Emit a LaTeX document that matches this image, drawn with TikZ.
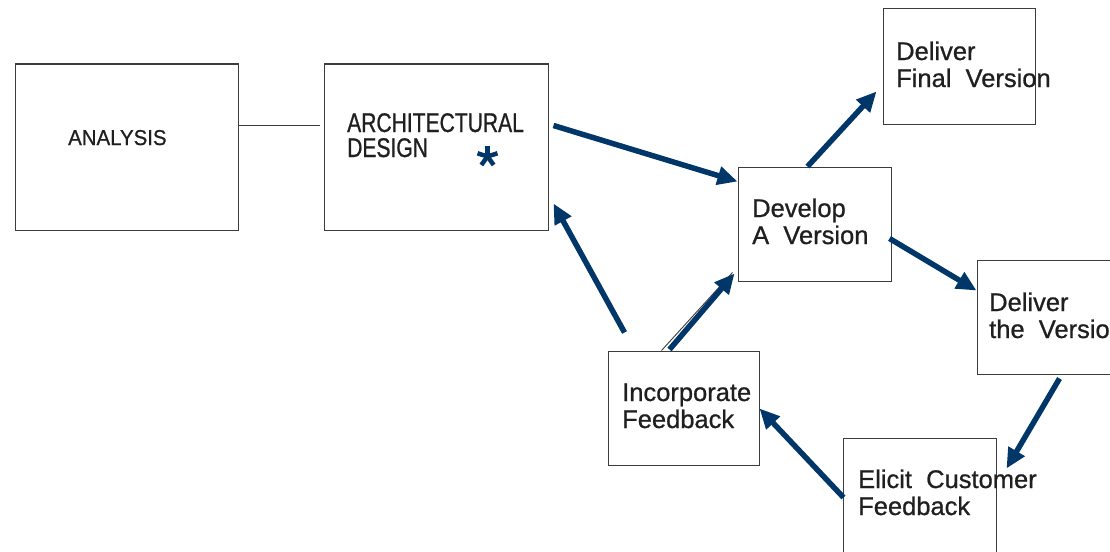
\documentclass[tikz,border=0pt]{standalone}
\usepackage{fontspec}
\setmainfont{Liberation Sans}
\newfontfamily\lblfont[FakeBold=0.8]{Liberation Sans}
\newfontfamily\condfont[FakeStretch=0.78,FakeBold=0.8]{Liberation Sans}
\newfontfamily\anafont[FakeStretch=0.95,FakeBold=0.8]{Liberation Sans}
\usetikzlibrary{arrows.meta,calc}
\definecolor{arrowblue}{RGB}{0,54,104}
\definecolor{boxline}{RGB}{60,60,60}
\tikzset{
  box/.style={draw=boxline, line width=1pt, rectangle, inner sep=0pt},
  lbl/.style={inner sep=0pt, align=left, text=black!88,
    font=\lblfont\fontsize{25.5}{27}\selectfont},
  flow/.style={draw=arrowblue, line width=5.5pt,
    -{Triangle[length=20pt,width=18pt]}},
  thinline/.style={draw=boxline, line width=0.9pt},
}
\begin{document}
\begin{tikzpicture}[x=1pt,y=-1pt]
\useasboundingbox (0,0) rectangle (1110,551);
% boxes
\node[box, minimum width=223pt, minimum height=166pt] (ana)  at (126.5,147) {};
\node[box, minimum width=224pt, minimum height=166pt] (arch) at (436,147) {};
\node[box, minimum width=153pt, minimum height=114pt] (dev)  at (814.5,224) {};
\node[box, minimum width=152pt, minimum height=115pt] (dfin) at (959,66.5) {};
\node[box, minimum width=153pt, minimum height=114pt] (dver) at (1053.5,317) {};
\node[box, minimum width=151pt, minimum height=114pt] (inc)  at (683.5,408) {};
\node[box, minimum width=153pt, minimum height=114pt] (eli)  at (919.5,495) {};
% labels (anchor = baseline of the last line)
\node[lbl, anchor=base west, font=\anafont\fontsize{21.5}{25}\selectfont] (tana) at (68,145) {ANALYSIS};
\node[lbl, anchor=base west, font=\condfont\fontsize{27}{25}\selectfont] (tarch) at (347,157) {ARCHITECTURAL\\DESIGN};
\node[lbl, anchor=base west] (tdev)  at (752,244) {Develop\\A\ \ Version};
\node[lbl, anchor=base west] (tdfin) at (896,87)  {Deliver\\Final\ \ Version};
\node[lbl, anchor=base west] (tdver) at (989,338) {Deliver\\the\ \ Version};
\node[lbl, anchor=base west] (tinc)  at (622,428) {Incorporate\\Feedback};
\node[lbl, anchor=base west] (teli)  at (858,515) {Elicit\ \ Customer\\Feedback};
% asterisk
\coordinate (star) at (487.5,156.5);
\foreach \a in {-90,-18,-162,54,126}
  \draw[arrowblue, line width=4.5pt] (star) -- ++(\a:10.5);
% plain connector
\draw[thinline] ($(ana.north east)+(0,61.5)$) -- ($(arch.north west)+(-4,61.5)$);
% arrows
\draw[flow] ($(arch.north east)+(5,62)$) -- ($(dev.north west)+(0,15)$);
\draw[flow] ($(dev.north west)+(70,0)$) -- ($(dfin.south west)+(-6,-33)$);
\draw[flow] ($(dev.north east)+(-2,72)$) -- ($(dver.north west)+(0,31)$);
\draw[flow] ($(dver.south west)+(83,4)$) -- ($(eli.north east)+(10,31)$);
\draw[flow] ($(eli.north west)+(1,60)$) -- ($(inc.north east)+(0,58)$);
\draw[thinline] ($(inc.north west)+(54,0)$) -- ($(dev.south west)+(-5,-9)$);
\draw[flow] ($(inc.north west)+(62,-1)$) -- ($(dev.south west)+(-3,-8)$);
\draw[flow] ($(inc.north west)+(17,-18)$) -- ($(arch.south east)+(5,-27)$);
\end{tikzpicture}
\end{document}
